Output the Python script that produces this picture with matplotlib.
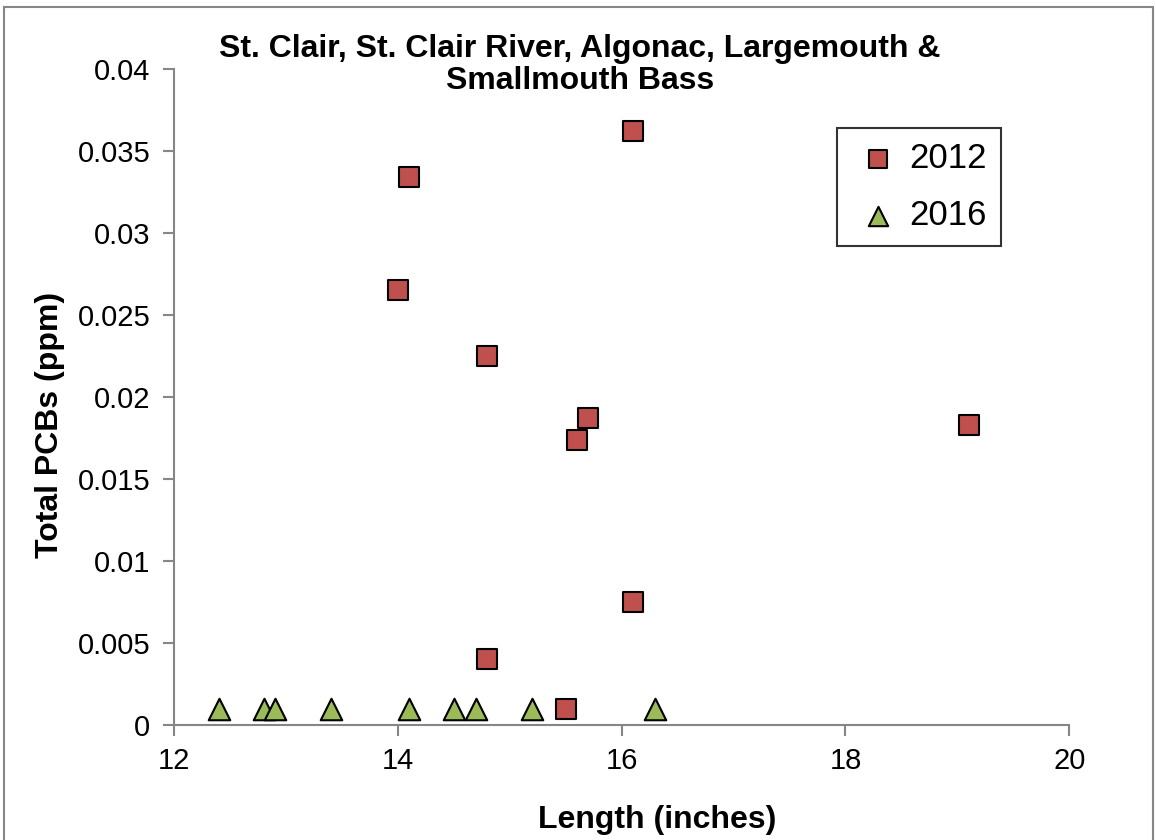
import matplotlib
matplotlib.use("Agg")
from matplotlib import pyplot as plt
from matplotlib.patches import Rectangle

plt.rcParams['font.family'] = ['Liberation Sans', 'DejaVu Sans']

# data
len_2012 = [14.1, 16.1, 14.0, 14.8, 15.7, 15.6, 19.1, 16.1, 14.8, 15.5]
pcb_2012 = [0.0334, 0.0362, 0.0265, 0.0225, 0.0187, 0.0174, 0.0183, 0.0075, 0.0040, 0.0010]

len_2016 = [12.4, 12.8, 12.9, 13.4, 14.1, 14.5, 14.7, 15.2, 16.3]
pcb_2016 = [0.001, 0.001, 0.001, 0.001, 0.001, 0.001, 0.001, 0.001, 0.001]

x_ticks = [12, 14, 16, 18, 20]
y_ticks = [0, 0.005, 0.01, 0.015, 0.02, 0.025, 0.03, 0.035, 0.04]
y_labels = ['0', '0.005', '0.01', '0.015', '0.02', '0.025', '0.03', '0.035', '0.04']

fig = plt.figure(figsize=(11.56, 8.4), dpi=100)
ax = fig.add_axes([0.1505, 0.137, 0.7745, 0.781])

ax.scatter(len_2012, pcb_2012, marker='s', s=210, c='#C0504D',
           edgecolors='black', linewidths=1.5, label='2012', zorder=3)
ax.scatter(len_2016, pcb_2016, marker='^', s=240, c='#9BBB59',
           edgecolors='black', linewidths=1.5, label='2016', zorder=3)

ax.set_xlim(12, 20)
ax.set_ylim(0, 0.04)
ax.set_xticks(x_ticks)
ax.set_xticklabels([str(t) for t in x_ticks])
ax.set_yticks(y_ticks)
ax.set_yticklabels(y_labels)

for side in ['top', 'right']:
    ax.spines[side].set_visible(False)
for side in ['left', 'bottom']:
    ax.spines[side].set_color('#868686')
    ax.spines[side].set_linewidth(1.5)
ax.tick_params(axis='both', colors='#868686', labelcolor='black', labelsize=21,
               length=8, width=1.5, direction='out')
ax.tick_params(axis='x', pad=8)
ax.tick_params(axis='y', pad=9)

# axis titles placed like the original chart
fig.text(657 / 1156, 1 - 820 / 840, 'Length (inches)', ha='center', va='center',
         fontsize=23, fontweight='bold')
fig.text(50 / 1156, 1 - 425 / 840, 'Total PCBs (ppm)', ha='center', va='center',
         rotation=90, fontsize=23, fontweight='bold')

fig.text(580 / 1156, 1 - 65 / 840,
         'St. Clair, St. Clair River, Algonac, Largemouth &\nSmallmouth Bass',
         ha='center', va='center', fontsize=23, fontweight='bold', linespacing=1.05)

leg = ax.legend(loc='upper left', bbox_to_anchor=(0.740, 0.910), fontsize=25,
                frameon=True, fancybox=False, edgecolor='black',
                borderpad=0.4, labelspacing=0.7, handletextpad=0.1,
                handlelength=1.6, borderaxespad=0, markerscale=0.9)
leg.get_frame().set_linewidth(1.5)

# outer chart border
fig.patches.append(Rectangle((4 / 1156, -0.05), 1149 / 1156, 1.05 - 7 / 840,
                             transform=fig.transFigure, fill=False,
                             edgecolor='#868686', linewidth=1.5))

fig.savefig('out.png', dpi=100)
